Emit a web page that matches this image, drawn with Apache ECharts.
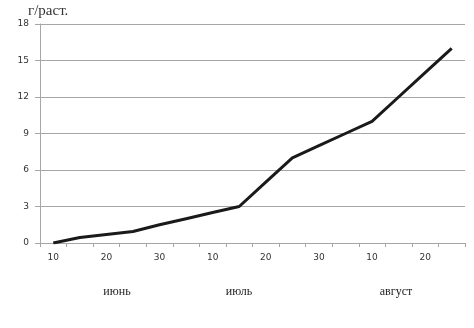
<!DOCTYPE html>
<html>
<head>
<meta charset="utf-8">
<script src="https://cdn.jsdelivr.net/npm/echarts@6/dist/echarts.min.js"></script>
<style>html,body{margin:0;padding:0;background:#fff}#c{width:474px;height:328px}</style>
</head>
<body>
<div id="c"></div>
<script>
var days = ['10','15','20','25','30','5','10','15','20','25','30','5','10','15','20','25'];
var growth = [0, 0.45, 0.7, 0.95, 1.5, 2.0, 2.5, 3.0, 5.0, 7.0, 8.0, 9.0, 10.0, 12.0, 14.0, 16.0];
var yTicks = [0, 3, 6, 9, 12, 15, 18];
var months = ['июнь', 'июль', 'август'];
var unitName = 'г/раст.';

var chart = echarts.init(document.getElementById('c'), null, {renderer: 'canvas'});
var gridCol = '#a6a6a6';
chart.setOption({
  animation: false,
  backgroundColor: '#fff',
  grid: {left: 40, right: 9, top: 24, bottom: 85, containLabel: false},
  xAxis: {
    type: 'category',
    data: days,
    boundaryGap: true,
    axisLine: {lineStyle: {color: gridCol, width: 1}},
    axisTick: {show: true, interval: 0, length: 4, lineStyle: {color: gridCol}},
    axisLabel: {interval: 1, color: '#333', fontSize: 9, fontFamily: 'DejaVu Sans', margin: 10},
    splitLine: {show: false}
  },
  yAxis: {
    type: 'value',
    min: yTicks[0],
    max: yTicks[yTicks.length - 1],
    interval: yTicks[1] - yTicks[0],
    axisLine: {show: true, lineStyle: {color: gridCol, width: 1}},
    axisTick: {show: true, length: 5, lineStyle: {color: gridCol}},
    axisLabel: {color: '#333', fontSize: 9, fontFamily: 'DejaVu Sans', margin: 11},
    splitLine: {show: true, lineStyle: {color: gridCol, width: 1}}
  },
  series: [{
    type: 'line',
    data: growth,
    showSymbol: false,
    symbol: 'none',
    lineStyle: {color: '#1a1a1a', width: 3},
    itemStyle: {color: '#1a1a1a'}
  }],
  graphic: [
    {type: 'text', left: 28, top: 4, style: {text: unitName, fontSize: 15, fontFamily: 'Liberation Serif', fill: '#333'}},
    {type: 'text', x: 117, y: 292, style: {text: months[0], fontSize: 12, fontFamily: 'Liberation Serif', fill: '#222', align: 'center', verticalAlign: 'middle'}},
    {type: 'text', x: 239, y: 292, style: {text: months[1], fontSize: 12, fontFamily: 'Liberation Serif', fill: '#222', align: 'center', verticalAlign: 'middle'}},
    {type: 'text', x: 396, y: 292, style: {text: months[2], fontSize: 12, fontFamily: 'Liberation Serif', fill: '#222', align: 'center', verticalAlign: 'middle'}}
  ]
});
</script>
</body>
</html>
